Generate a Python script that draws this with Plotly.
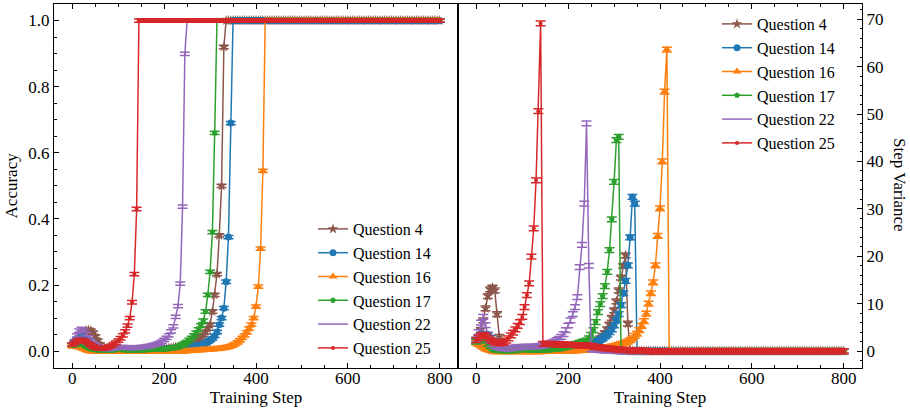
import plotly.graph_objects as go

# ---------------- data ----------------
STEPS = list(range(0, 805, 5))  # training steps 0..800

QUESTIONS = ["Question 4", "Question 14", "Question 16", "Question 17", "Question 22", "Question 25"]
COLORS = ["#8c564b", "#1f77b4", "#ff7f0e", "#2ca02c", "#9467bd", "#d62728"]
SYMBOLS = ["star", "circle", "triangle-up", "pentagon", None, "circle"]
SIZES = [8, 7, 8, 6, 0, 4]

ACC_ERR = 0.005
VAR_ERR = 0.5
ACC_TAIL = 1.0   # accuracy after the jump
VAR_TAIL = 0.0   # variance after the jump

# Accuracy (left panel), values until the jump to 1.0
Q4_ACC = [0.02, 0.025, 0.03, 0.04, 0.05, 0.058, 0.062, 0.064, 0.062, 0.056,
          0.045, 0.032, 0.02, 0.012, 0.008, 0.006, 0.005, 0.005, 0.005, 0.005,
          0.005, 0.005, 0.005, 0.005, 0.005, 0.005, 0.005, 0.005, 0.005, 0.005,
          0.005, 0.006, 0.006, 0.006, 0.006, 0.006, 0.007, 0.007, 0.007, 0.008,
          0.008, 0.009, 0.009, 0.01, 0.011, 0.012, 0.013, 0.014, 0.015, 0.017,
          0.019, 0.021, 0.024, 0.027, 0.031, 0.036, 0.042, 0.049, 0.058, 0.068,
          0.08, 0.12, 0.17, 0.233, 0.35, 0.5, 0.92, 1.0]
Q14_ACC = [0.02, 0.028, 0.035, 0.04, 0.044, 0.042, 0.036, 0.028, 0.02, 0.014,
           0.01, 0.007, 0.005, 0.004, 0.004, 0.003, 0.003, 0.003, 0.003, 0.003,
           0.003, 0.003, 0.003, 0.003, 0.003, 0.004, 0.004, 0.004, 0.004, 0.004,
           0.004, 0.004, 0.005, 0.005, 0.005, 0.005, 0.005, 0.005, 0.006, 0.006,
           0.006, 0.007, 0.007, 0.008, 0.008, 0.009, 0.009, 0.01, 0.01, 0.011,
           0.012, 0.013, 0.014, 0.016, 0.017, 0.018, 0.019, 0.02, 0.024, 0.028,
           0.033, 0.038, 0.046, 0.058, 0.08, 0.1, 0.13, 0.21, 0.345, 0.69, 1.0]
Q16_ACC = [0.015, 0.016, 0.014, 0.012, 0.01, 0.007, 0.004, 0.002, 0.0, 0.0,
           0.0, 0.0, 0.0, 0.0, 0.0, 0.0, 0.0, 0.0, 0.0, 0.0,
           0.0, 0.0, 0.0, 0.0, 0.0, 0.0, 0.0, 0.0, 0.0, 0.0,
           0.0, 0.0, 0.0, 0.0, 0.0, 0.0, 0.0, 0.0, 0.0, 0.0,
           0.0, 0.0, 0.0, 0.0, 0.0, 0.0, 0.0, 0.0, 0.0, 0.0,
           0.001, 0.001, 0.002, 0.002, 0.003, 0.003, 0.004, 0.004, 0.005, 0.005,
           0.006, 0.006, 0.007, 0.007, 0.008, 0.009, 0.01, 0.011, 0.013, 0.015,
           0.018, 0.022, 0.027, 0.033, 0.04, 0.048, 0.057, 0.068, 0.08, 0.1,
           0.135, 0.195, 0.31, 0.545, 1.0]
Q17_ACC = [0.02, 0.018, 0.022, 0.026, 0.025, 0.021, 0.016, 0.012, 0.009, 0.007,
           0.005, 0.004, 0.003, 0.003, 0.003, 0.003, 0.003, 0.003, 0.004, 0.006,
           0.008, 0.008, 0.006, 0.004, 0.003, 0.003, 0.003, 0.003, 0.003, 0.003,
           0.004, 0.004, 0.004, 0.005, 0.005, 0.005, 0.005, 0.006, 0.006, 0.006,
           0.006, 0.007, 0.008, 0.009, 0.01, 0.011, 0.013, 0.016, 0.02, 0.024,
           0.028, 0.034, 0.04, 0.048, 0.056, 0.066, 0.078, 0.092, 0.12, 0.17,
           0.24, 0.36, 0.66, 1.0]
Q22_ACC = [0.02, 0.03, 0.048, 0.062, 0.067, 0.062, 0.052, 0.042, 0.032, 0.024,
           0.018, 0.013, 0.01, 0.008, 0.007, 0.007, 0.007, 0.008, 0.009, 0.01,
           0.011, 0.012, 0.012, 0.011, 0.01, 0.01, 0.01, 0.01, 0.011, 0.011,
           0.012, 0.013, 0.014, 0.015, 0.016, 0.018, 0.02, 0.022, 0.025, 0.029,
           0.034, 0.04, 0.048, 0.06, 0.075, 0.104, 0.136, 0.204, 0.437, 0.899, 1.0]
Q25_ACC = [0.02, 0.025, 0.03, 0.033, 0.034, 0.032, 0.028, 0.023, 0.018, 0.014,
           0.011, 0.009, 0.008, 0.008, 0.009, 0.011, 0.014, 0.017, 0.021, 0.026,
           0.032, 0.039, 0.048, 0.06, 0.077, 0.1, 0.148, 0.233, 0.43, 1.0]

# Step variance (right panel), values until the drop to 0
Q4_VAR = [2.0, 3.0, 4.5, 6.5, 9.0, 11.6, 13.0, 13.4, 12.8, 7.8,
          3.0, 1.5, 0.9, 0.6, 0.5, 0.5, 0.45, 0.45, 0.45, 0.45,
          0.45, 0.45, 0.45, 0.45, 0.45, 0.45, 0.45, 0.45, 0.5, 0.5,
          0.5, 0.55, 0.55, 0.6, 0.6, 0.65, 0.65, 0.7, 0.7, 0.7,
          0.7, 0.75, 0.8, 0.85, 0.9, 1.0, 1.1, 1.2, 1.3, 1.4,
          1.6, 1.8, 2.0, 2.3, 2.7, 3.2, 3.8, 4.6, 5.6, 7.0,
          8.6, 10.5, 12.8, 15.5, 18.0, 20.2, 5.8, 0.0]
Q14_VAR = [2.2, 2.8, 3.3, 3.6, 3.6, 3.3, 2.8, 2.2, 1.6, 1.1,
           0.8, 0.6, 0.5, 0.4, 0.4, 0.4, 0.4, 0.4, 0.4, 0.4,
           0.35, 0.35, 0.35, 0.35, 0.35, 0.35, 0.35, 0.35, 0.35, 0.35,
           0.4, 0.4, 0.45, 0.45, 0.45, 0.5, 0.5, 0.5, 0.55, 0.55,
           0.6, 0.65, 0.7, 0.75, 0.8, 0.9, 1.0, 1.1, 1.2, 1.35,
           1.5, 1.7, 1.9, 2.1, 2.4, 2.7, 3.1, 3.5, 4.0, 4.6,
           5.4, 6.5, 7.8, 9.7, 12.2, 14.8, 18.1, 24.0, 32.5, 31.1, 0.0]
Q16_VAR = [1.8, 1.5, 1.2, 0.9, 0.6, 0.4, 0.25, 0.1, 0.0, 0.0,
           0.0, 0.0, 0.0, 0.0, 0.0, 0.0, 0.0, 0.0, 0.0, 0.0,
           0.0, 0.0, 0.0, 0.0, 0.0, 0.0, 0.0, 0.0, 0.0, 0.0,
           0.05, 0.05, 0.05, 0.05, 0.05, 0.05, 0.05, 0.05, 0.05, 0.05,
           0.1, 0.12, 0.15, 0.18, 0.2, 0.23, 0.26, 0.28, 0.3, 0.34,
           0.38, 0.42, 0.45, 0.52, 0.6, 0.65, 0.7, 0.78, 0.85, 0.92,
           1.0, 1.15, 1.3, 1.45, 1.6, 1.8, 2.0, 2.3, 2.7, 3.2,
           3.7, 4.4, 5.3, 6.3, 7.9, 10.0, 12.2, 14.5, 18.1, 24.3,
           30.1, 40.0, 54.7, 63.6, 0.0]
Q17_VAR = [2.0, 2.3, 2.5, 2.6, 2.2, 1.6, 1.1, 0.7, 0.4, 0.3,
           0.2, 0.2, 0.2, 0.2, 0.2, 0.2, 0.2, 0.2, 0.3, 0.4,
           0.5, 0.5, 0.4, 0.3, 0.3, 0.3, 0.3, 0.3, 0.3, 0.3,
           0.3, 0.35, 0.4, 0.45, 0.5, 0.55, 0.6, 0.7, 0.8, 0.9,
           1.0, 1.15, 1.3, 1.45, 1.6, 1.75, 1.9, 2.05, 2.2, 2.7,
           3.4, 4.4, 6.1, 8.2, 9.9, 11.6, 13.7, 16.7, 21.3, 27.8,
           35.7, 44.5, 45.2, 0.0]
Q22_VAR = [2.5, 4.0, 6.0, 7.2, 5.5, 3.5, 2.2, 1.5, 1.1, 0.9,
           0.8, 0.7, 0.6, 0.6, 0.6, 0.65, 0.7, 0.75, 0.8, 0.85,
           0.9, 0.9, 0.9, 0.9, 0.9, 0.9, 1.0, 1.05, 1.1, 1.2,
           1.3, 1.45, 1.6, 1.8, 2.0, 2.3, 2.6, 3.0, 3.6, 4.4,
           5.4, 6.5, 7.8, 9.3, 11.4, 17.7, 22.4, 31.1, 48.0, 18.0,
           0.4, 0.35, 0.3, 0.25, 0.2, 0.18, 0.15, 0.12, 0.1, 0.08,
           0.05, 0.0]
Q25_VAR = [2.3, 2.8, 3.2, 3.4, 3.2, 2.8, 2.4, 2.1, 1.9, 1.8,
           1.7, 1.7, 1.9, 2.2, 2.7, 3.3, 3.9, 4.6, 5.3, 6.1,
           7.2, 9.3, 11.8, 14.3, 19.9, 25.9, 36.0, 50.6, 69.1, 1.5,
           1.5, 1.5, 1.5, 1.45, 1.45, 1.4, 1.4, 1.4, 1.35, 1.35,
           1.3, 1.3, 1.3, 1.25, 1.25, 1.2, 1.2, 1.15, 1.15, 1.1,
           1.1, 1.0, 0.9, 0.82, 0.75, 0.68, 0.6, 0.55, 0.5, 0.45,
           0.4, 0.36, 0.32, 0.28, 0.25, 0.22, 0.2, 0.17, 0.15, 0.12,
           0.1, 0.08, 0.06, 0.04, 0.03, 0.0]

ACC = [Q4_ACC, Q14_ACC, Q16_ACC, Q17_ACC, Q22_ACC, Q25_ACC]
VAR = [Q4_VAR, Q14_VAR, Q16_VAR, Q17_VAR, Q22_VAR, Q25_VAR]


def padded(vals, tail):
    return vals + [tail] * (len(STEPS) - len(vals))


FONT = "Liberation Serif"
FS = 17
LFS = 16
fig = go.Figure()

for i, name in enumerate(QUESTIONS):
    c = COLORS[i]
    mode = "lines+markers" if SYMBOLS[i] else "lines"
    marker = dict(symbol=SYMBOLS[i] or "circle", size=SIZES[i], color=c, line=dict(width=0))
    fig.add_trace(go.Scatter(
        x=STEPS, y=padded(ACC[i], ACC_TAIL), name=name, mode=mode,
        line=dict(color=c, width=1.5), marker=marker,
        error_y=dict(type="constant", value=ACC_ERR, width=5, thickness=1.5, color=c),
        xaxis="x", yaxis="y", legend="legend", legendgroup="a" + str(i),
    ))
for i, name in enumerate(QUESTIONS):
    c = COLORS[i]
    mode = "lines+markers" if SYMBOLS[i] else "lines"
    marker = dict(symbol=SYMBOLS[i] or "circle", size=SIZES[i], color=c, line=dict(width=0))
    fig.add_trace(go.Scatter(
        x=STEPS, y=padded(VAR[i], VAR_TAIL), name=name, mode=mode,
        line=dict(color=c, width=1.5), marker=marker,
        error_y=dict(type="constant", value=VAR_ERR, width=5, thickness=1.5, color=c),
        xaxis="x2", yaxis="y2", legend="legend2", legendgroup="b" + str(i),
    ))

W, H = 910, 409
ydom = [1 - 367.7 / H, 1 - 4 / H]
common_x = dict(range=[-40, 840], tickvals=[0, 200, 400, 600, 800], ticks="inside", ticklen=5,
                tickwidth=1, tickcolor="black", showline=True, linecolor="black", linewidth=1,
                mirror="ticks", showgrid=False, zeroline=False, ticklabelstandoff=-5,
                minor=dict(dtick=50, ticks="inside", ticklen=2.5, tickcolor="black", showgrid=False),
                title=dict(text="Training Step", standoff=4, font=dict(size=FS)))

fig.update_layout(
    width=W, height=H, margin=dict(l=0, r=0, t=0, b=0),
    paper_bgcolor="white", plot_bgcolor="white",
    font=dict(family=FONT, size=FS, color="black"),
    showlegend=True,
    xaxis=dict(domain=[54 / W, 458 / W], anchor="y", **common_x),
    yaxis=dict(domain=ydom, anchor="x", range=[-0.05, 1.05], dtick=0.2, tick0=0, tickformat=".1f",
               ticks="inside", ticklen=5, tickcolor="black", showline=True, linecolor="black",
               linewidth=1, mirror=True, showgrid=False, zeroline=False,
               minor=dict(dtick=0.05, ticks="inside", ticklen=2.5, tickcolor="black", showgrid=False),
               title=dict(text="Accuracy", standoff=6, font=dict(size=FS))),
    xaxis2=dict(domain=[458 / W, 862 / W], anchor="y2", **common_x),
    yaxis2=dict(domain=ydom, anchor="x2", side="right", range=[-3.5, 73.2], dtick=10, tick0=0,
                ticks="inside", ticklen=5, tickcolor="black", showline=True, linecolor="black",
                linewidth=1, mirror=True, showgrid=False, zeroline=False,
                minor=dict(dtick=2, ticks="inside", ticklen=2.5, tickcolor="black", showgrid=False)),
    legend=dict(x=313 / W, y=1 - 212 / H, xanchor="left", yanchor="top", bgcolor="rgba(0,0,0,0)",
                font=dict(size=LFS), tracegroupgap=0, itemwidth=30),
    legend2=dict(x=717 / W, y=1 - 7 / H, xanchor="left", yanchor="top", bgcolor="rgba(0,0,0,0)",
                 font=dict(size=LFS), tracegroupgap=0, itemwidth=30),
    annotations=[dict(text="Step Variance", textangle=90, x=899 / W, y=1 - 185 / H,
                      xref="paper", yref="paper", xanchor="center", yanchor="middle",
                      showarrow=False, font=dict(size=FS))],
)

fig.write_html("out.html")
